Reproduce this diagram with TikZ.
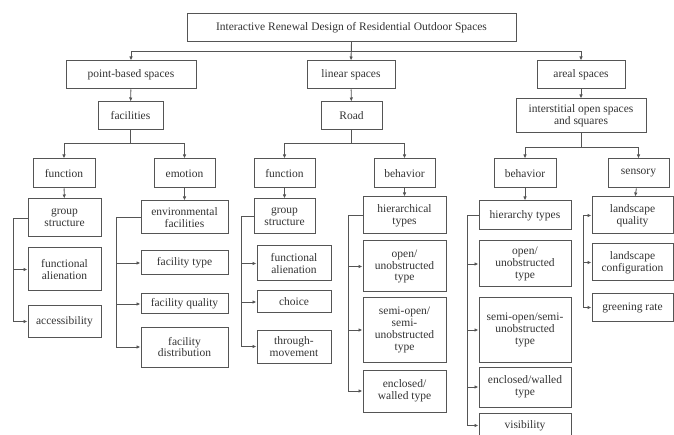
\documentclass[tikz,border=0pt]{standalone}
\usepackage{fontspec}
\setmainfont{Liberation Serif}
\newfontfamily\tnr{Liberation Serif}
\usetikzlibrary{arrows.meta}
\definecolor{ln}{HTML}{555555}
\definecolor{tx}{HTML}{333333}
\tikzset{
  bx/.style={draw=ln, line width=1pt, text=tx, align=center, inner sep=1pt,
    font=\tnr\fontsize{11.5}{11.8}\selectfont},
  arr/.style={draw=ln, line width=0.9pt, -{Latex[length=4pt,width=3.5pt]}},
}
\newcommand{\bxn}[7]{% name, x1, x2, y1, y2, text
  \node[bx, minimum width={#3-#2}, minimum height={#5-#4}] (#1) at ({(#2+#3)/2},{(#4+#5)/2}) {#6};}
\begin{document}
\begin{tikzpicture}[x=1pt,y=-1pt]
\useasboundingbox (0,0) rectangle (674,435);
% level 0
\bxn{top}{187}{516}{14}{42}{Interactive Renewal Design of Residential Outdoor Spaces}{}
% level 1
\bxn{ps}{66}{196}{61}{89}{point-based spaces}{}
\bxn{ls}{307}{395}{61}{89}{linear spaces}{}
\bxn{as}{537}{625}{61}{89}{areal spaces}{}
% level 2
\bxn{fac}{98}{163}{102}{130}{facilities}{}
\bxn{road}{321}{382}{102}{130}{Road}{}
\bxn{inter}{516}{646}{99}{133}{interstitial open spaces\\and squares}{}
% level 3
\bxn{fn1}{33}{95}{159}{188}{function}{}
\bxn{em}{154}{215}{159}{188}{emotion}{}
\bxn{fn2}{254}{315}{159}{188}{function}{}
\bxn{bh1}{374}{435}{159}{188}{behavior}{}
\bxn{bh2}{494}{556}{159}{188}{behavior}{}
\bxn{sen}{608}{669}{159}{188}{sensory}{}
% level 4 - point function
\bxn{gs1}{28}{101}{199}{237}{group\\structure}{}
\bxn{fa1}{28}{101}{248}{291}{functional\\alienation}{}
\bxn{acc}{28}{101}{306}{337}{accessibility}{}
% emotion
\bxn{env}{141}{228}{201}{234}{environmental\\facilities}{}
\bxn{ft}{141}{228}{251}{275}{facility type}{}
\bxn{fq}{141}{228}{294}{314}{facility quality}{}
\bxn{fd}{141}{228}{327}{367}{facility\\distribution}{}
% linear function
\bxn{gs2}{254}{315}{199}{234}{group\\structure}{}
\bxn{fa2}{257}{331}{246}{281}{functional\\alienation}{}
\bxn{ch}{257}{331}{291}{313}{choice}{}
\bxn{tm}{257}{331}{330}{363}{through-\\movement}{}
% linear behavior
\bxn{ht1}{363}{446}{197}{234}{hierarchical\\types}{}
\bxn{ou1}{363}{446}{241}{292}{open/\\unobstructed\\type}{}
\bxn{so1}{363}{446}{298}{362}{semi-open/\\semi-\\unobstructed\\type}{}
\bxn{ew1}{363}{446}{370}{412}{enclosed/\\walled type}{}
% areal behavior
\bxn{ht2}{479}{571}{201}{230}{hierarchy types}{}
\bxn{ou2}{479}{571}{241}{287}{open/\\unobstructed\\type}{}
\bxn{so2}{479}{571}{298}{362}{semi-open/semi-\\unobstructed\\type}{}
\bxn{ew2}{479}{571}{367}{407}{enclosed/walled\\type}{}
\bxn{vis}{479}{571}{413}{438}{visibility}{}
% sensory
\bxn{lq}{592}{673}{197}{234}{landscape\\quality}{}
\bxn{lc}{592}{673}{244}{281}{landscape\\configuration}{}
\bxn{gr}{592}{673}{294}{321}{greening rate}{}

% top connectors
\coordinate (t1) at (0,51);
\draw[arr] (top.south) -- (top.south |- t1) -| (ps.north);
\draw[arr] (top.south) -- (top.south |- t1) -| (as.north);
\draw[arr] (top.south) -- (ls.north);
\draw[arr] (ps) -- (fac);
\draw[arr] (ls) -- (road);
\draw[arr] (as) -- (inter);
\coordinate (t2) at (0,143);
\coordinate (t3) at (0,147);
\draw[arr] (fac.south) -- (fac.south |- t2) -| (fn1.north);
\draw[arr] (fac.south) -- (fac.south |- t2) -| (em.north);
\draw[arr] (road.south) -- (road.south |- t2) -| (fn2.north);
\draw[arr] (road.south) -- (road.south |- t2) -| (bh1.north);
\draw[arr] (inter.south) -- (inter.south |- t3) -| (bh2.north);
\draw[arr] (inter.south) -- (inter.south |- t3) -| (sen.north);
\draw[arr] (fn1) -- (gs1);
\draw[arr] (em) -- (env);
\draw[arr] (fn2) -- (gs2);
\draw[arr] (bh1) -- (ht1);
\draw[arr] (bh2) -- (ht2);
\draw[arr] (sen) -- (lq);

% side buses
\coordinate (b1) at (13,0);
\draw[arr] (gs1.west) -- (gs1.west -| b1) |- (acc.west);
\draw[arr] (b1 |- fa1.west) -- (fa1.west);

\coordinate (b2) at (116,0);
\draw[arr] (env.west) -- (env.west -| b2) |- (fd.west);
\draw[arr] (b2 |- ft.west) -- (ft.west);
\draw[arr] (b2 |- fq.west) -- (fq.west);

\coordinate (b3) at (241,0);
\draw[arr] (gs2.west) -- (gs2.west -| b3) |- (tm.west);
\draw[arr] (b3 |- fa2.west) -- (fa2.west);
\draw[arr] (b3 |- ch.west) -- (ch.west);

\coordinate (b4) at (348,0);
\draw[arr] (ht1.west) -- (ht1.west -| b4) |- (ew1.west);
\draw[arr] (b4 |- ou1.west) -- (ou1.west);
\draw[arr] (b4 |- so1.west) -- (so1.west);

\coordinate (b5) at (467,0);
\draw[arr] (ht2.west) -- (ht2.west -| b5) |- (vis.west);
\draw[arr] (b5 |- ou2.west) -- (ou2.west);
\draw[arr] (b5 |- so2.west) -- (so2.west);
\draw[arr] (b5 |- ew2.west) -- (ew2.west);

\coordinate (b6) at (583,0);
\draw[arr] (b6 |- lq.west) -- (lq.west);
\draw[arr] (b6 |- lq.west) |- (gr.west);
\draw[arr] (b6 |- lc.west) -- (lc.west);
\end{tikzpicture}
\end{document}
